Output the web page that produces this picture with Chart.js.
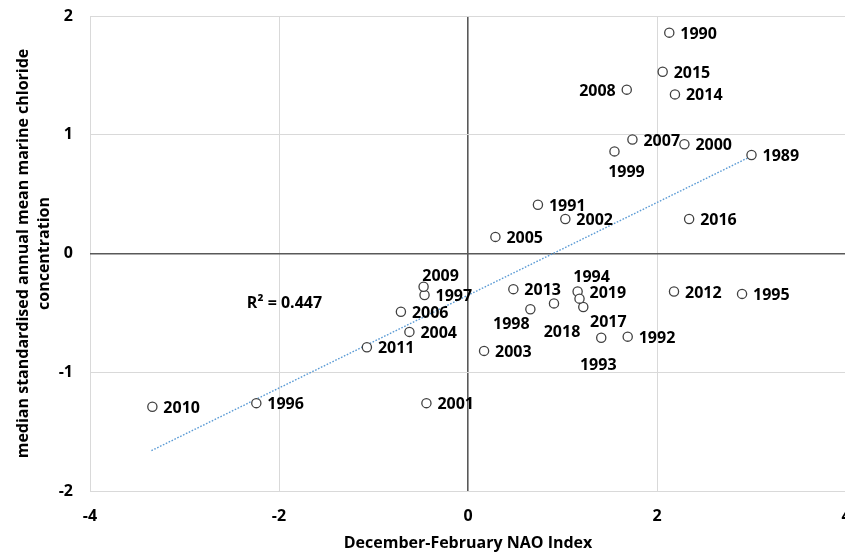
<!DOCTYPE html>
<html>
<head>
<meta charset="utf-8">
<script src="https://cdn.jsdelivr.net/npm/chart.js@4"></script>
<style>
  html, body { margin: 0; padding: 0; background: #fff; overflow: hidden; width: 845px; height: 553px; }
  #wrap { position: absolute; left: 0; top: 0; width: 880px; height: 553px; }
</style>
</head>
<body>
<div id="wrap"><canvas id="c" width="880" height="553"></canvas></div>
<script>
// ---- data ----
const years = ['1989','1990','1991','1992','1993','1994','1995','1996','1997','1998','1999','2000','2001','2002','2003','2004','2005','2006','2007','2008','2009','2010','2011','2012','2013','2014','2015','2016','2017','2018','2019'];
const naoIndex = [3.00, 2.13, 0.74, 1.69, 1.41, 1.16, 2.90, -2.24, -0.46, 0.66, 1.55, 2.29, -0.44, 1.03, 0.17, -0.62, 0.29, -0.71, 1.74, 1.68, -0.47, -3.34, -1.07, 2.18, 0.48, 2.19, 2.06, 2.34, 1.22, 0.91, 1.18];
const chloride = [0.83, 1.86, 0.41, -0.70, -0.71, -0.32, -0.34, -1.26, -0.35, -0.47, 0.86, 0.92, -1.26, 0.29, -0.82, -0.66, 0.14, -0.49, 0.96, 1.38, -0.28, -1.29, -0.79, -0.32, -0.30, 1.34, 1.53, 0.29, -0.45, -0.42, -0.38];
const trendX = [-3.35, 3.00];
const trendY = [-1.66, 0.82];
const rSquaredText = 'R² = 0.447';
const rSquaredPos = { x: -2.34, y: -0.41 };
const xTicks = [-4, -2, 0, 2, 4];
const yTicks = [-2, -1, 0, 1, 2];

// ---- label placement (style) ----
const labelBaseDy = 1.5;
const labelDefault = { align: 'left', dx: 11, dy: 0 };
const labelOverrides = {
  '2008': { align: 'right', dx: -11, dy: 0 },
  '1999': { align: 'center', dx: 12, dy: 20 },
  '2009': { align: 'center', dx: 17, dy: -12 },
  '1998': { align: 'center', dx: -19, dy: 14 },
  '2018': { align: 'center', dx: 8, dy: 28 },
  '1994': { align: 'center', dx: 14, dy: -16 },
  '2019': { align: 'left', dx: 10, dy: -6.5 },
  '2017': { align: 'center', dx: 25, dy: 14 },
  '1993': { align: 'center', dx: -3, dy: 26 }
};

const FONT = "'Open Sans', 'DejaVu Sans', sans-serif";
const TEXT = '#000000';

const points = years.map((y, i) => ({ x: naoIndex[i], y: chloride[i] }));
const trend = trendX.map((x, i) => ({ x: x, y: trendY[i] }));

const labelPlugin = {
  id: 'pointLabels',
  afterDatasetsDraw(chart) {
    const ctx = chart.ctx;
    const meta = chart.getDatasetMeta(0);
    ctx.save();
    ctx.font = `bold 16px ${FONT}`;
    ctx.fillStyle = TEXT;
    ctx.textBaseline = 'middle';
    meta.data.forEach((el, i) => {
      const p = labelOverrides[years[i]] || labelDefault;
      ctx.textAlign = p.align;
      ctx.fillText(years[i], el.x + p.dx, el.y + p.dy + labelBaseDy);
    });
    const xs = chart.scales.x, ys = chart.scales.y;
    ctx.textAlign = 'left';
    ctx.fillText(rSquaredText, xs.getPixelForValue(rSquaredPos.x), ys.getPixelForValue(rSquaredPos.y) + labelBaseDy);
    ctx.restore();
  }
};

const gridColor = (ctx) => (ctx.tick && ctx.tick.value === 0) ? '#595959' : '#d9d9d9';
const gridWidth = (ctx) => (ctx.tick && ctx.tick.value === 0) ? 1.6 : 1;

new Chart(document.getElementById('c'), {
  type: 'scatter',
  data: {
    datasets: [
      {
        data: points,
        pointStyle: 'circle',
        pointRadius: 4.6,
        pointBorderWidth: 1.3,
        pointBackgroundColor: '#ffffff',
        pointBorderColor: '#404040',
        order: 1
      },
      {
        type: 'line',
        data: trend,
        borderColor: '#5b9bd5',
        borderWidth: 1.4,
        borderDash: [1.6, 1.6],
        pointRadius: 0,
        fill: false,
        order: 2
      }
    ]
  },
  options: {
    responsive: false,
    animation: false,
    devicePixelRatio: 1,
    layout: { padding: { left: 0, right: 34, top: 16, bottom: 0 } },
    plugins: { legend: { display: false }, tooltip: { enabled: false } },
    scales: {
      x: {
        type: 'linear',
        min: -4, max: 4,
        afterBuildTicks: (s) => { s.ticks = xTicks.map(v => ({ value: v })); },
        afterFit: (s) => { s.height = 62; s.paddingLeft = 0; s.paddingRight = 0; },
        grid: { color: gridColor, lineWidth: gridWidth, drawTicks: false },
        border: { display: false },
        ticks: { color: TEXT, padding: 16, font: { family: FONT, size: 16, weight: 'bold' } },
        title: {
          display: true,
          text: 'December-February NAO Index',
          color: TEXT,
          padding: { top: 0, bottom: 0 },
          font: { family: FONT, size: 16, weight: 'bold' }
        }
      },
      y: {
        type: 'linear',
        min: -2, max: 2,
        afterBuildTicks: (s) => { s.ticks = yTicks.map(v => ({ value: v })); },
        afterFit: (s) => { s.width = 90; s.paddingTop = 0; s.paddingBottom = 0; },
        grid: { color: gridColor, lineWidth: gridWidth, drawTicks: false },
        border: { display: false },
        ticks: { color: TEXT, padding: 17, font: { family: FONT, size: 16, weight: 'bold' } },
        title: {
          display: true,
          text: ['median standardised annual mean marine chloride', 'concentration'],
          color: TEXT,
          padding: { top: 13, bottom: 0 },
          font: { family: FONT, size: 16, weight: 'bold', lineHeight: 1.3 }
        }
      }
    }
  },
  plugins: [labelPlugin]
});
</script>
</body>
</html>
